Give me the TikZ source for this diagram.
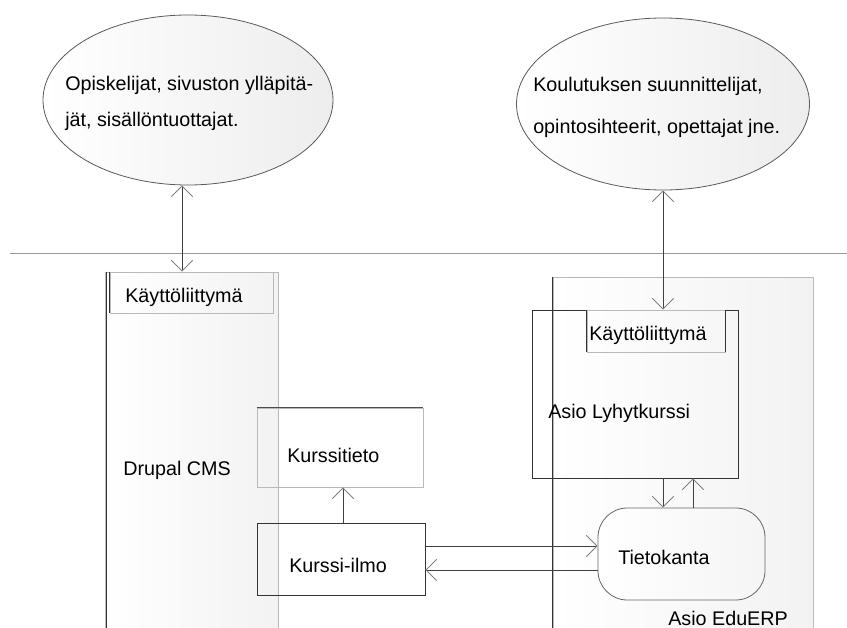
\documentclass[tikz,border=0pt]{standalone}
\usepackage{fontspec}
\setmainfont{Liberation Sans}
\usetikzlibrary{shapes.geometric,arrows.meta}

\newcommand{\pikseli}{0.75pt}

\tikzset{
  pilvi/.style={ellipse, draw=black!65, line width=0.6pt, inner sep=0pt, left color=white, right color=gray!14},
  kehys/.style={rectangle, draw=gray!55, line width=0.6pt, inner sep=0pt, left color=white, right color=gray!10},
  laatikko/.style={rectangle, draw=black!80, line width=0.7pt, inner sep=0pt},
  vaalea/.style={rectangle, draw=gray!55, line width=0.7pt, inner sep=0pt},
  kanta/.style={rectangle, rounded corners=22pt, draw=black!60, line width=0.6pt, inner sep=0pt, left color=white, right color=gray!8},
  reuna/.style={draw=black!80, line width=1.1pt},
  teksti/.style={anchor=west, inner sep=0pt, font=\fontsize{14.8}{18}\selectfont},
  nuoli/.style={draw=black!75, line width=0.6pt}
}

\begin{document}
\begin{tikzpicture}[x=0.75pt,y=-0.75pt,>={Straight Barb[length=8pt,width=16pt,color=gray]}]
    \useasboundingbox (0,0) rectangle (847,628);
    \node[pilvi, minimum width=290*\pikseli, minimum height=170*\pikseli] (opiskelijat) at (188,100) {};
    \node[teksti, align=left, font=\fontsize{14.8}{27}\selectfont] (opiskelijatTxt) at (65,103) {Opiskelijat, sivuston ylläpitä-\\jät, sisällöntuottajat.};
    \node[pilvi, minimum width=293*\pikseli, minimum height=172*\pikseli] (suunnittelijat) at (663,104) {};
    \node[teksti, align=left, font=\fontsize{14.8}{31.5}\selectfont] (suunnittelijatTxt) at (533,107) {Koulutuksen suunnittelijat,\\opintosihteerit, opettajat jne.};
    \draw[gray!80, line width=0.7pt] (10,253) -- (847,253);
    \node[kehys, minimum width=173*\pikseli, minimum height=364*\pikseli] (drupal) at (191.5,454) {};
    \draw[reuna] ([xshift=1.5pt]drupal.north west) -- ([xshift=1.5pt]drupal.south west);
    \node[teksti] (drupalTxt) at (123,470) {Drupal CMS};
    \node[vaalea, minimum width=163*\pikseli, minimum height=41*\pikseli] (kl1) at (191.5,292.5) {};
    \draw[reuna] (kl1.north west) -- (kl1.south west);
    \node[teksti] (kl1Txt) at (125,297) {Käyttöliittymä};
    \node[vaalea, minimum width=166*\pikseli, minimum height=79*\pikseli] (kurssitieto) at (340,447.5) {};
    \draw[black!70, line width=0.7pt] (kurssitieto.north west) -- (kurssitieto.north east);
    \node[teksti] (kurssitietoTxt) at (287,455) {Kurssitieto};
    \node[laatikko, minimum width=168*\pikseli, minimum height=72*\pikseli] (ilmo) at (341,559) {};
    \node[teksti] (ilmoTxt) at (289,565) {Kurssi-ilmo};
    \node[kehys, minimum width=260*\pikseli, minimum height=363*\pikseli] (eduerp) at (683,458.5) {};
    \draw[reuna] (eduerp.north west) -- (eduerp.south west);
    \node[teksti] (eduerpTxt) at (668,618) {Asio EduERP};
    \node[laatikko, minimum width=206*\pikseli, minimum height=168*\pikseli] (lyhytkurssi) at (635,394) {};
    \node[teksti] (lyhytkurssiTxt) at (548,413) {Asio Lyhytkurssi};
    \node[vaalea, minimum width=138*\pikseli, minimum height=42*\pikseli] (kl2) at (656,331) {};
    \draw[reuna] (kl2.north west) -- (kl2.south west) (kl2.north east) -- (kl2.south east);
    \node[teksti] (kl2Txt) at (589,335) {Käyttöliittymä};
    \node[kanta, minimum width=167*\pikseli, minimum height=92*\pikseli] (tietokanta) at (681.5,554) {};
    \node[teksti] (tietokantaTxt) at (618,557) {Tietokanta};
    \draw[nuoli,<->] (182,0 |- opiskelijat.south) -- (182,0 |- kl1.north);
    \draw[nuoli,<->] (suunnittelijat.south) -- (suunnittelijat.south |- kl2.north);
    \draw[nuoli,->] (343,0 |- ilmo.north) -- (343,0 |- kurssitieto.south);
    \draw[nuoli,->] (663,0 |- lyhytkurssi.south) -- (663,0 |- tietokanta.north);
    \draw[nuoli,->] (693,0 |- tietokanta.north) -- (693,0 |- lyhytkurssi.south);
    \draw[nuoli,->] (ilmo.east |- 0,546) -- (tietokanta.west |- 0,546);
    \draw[nuoli,->] (tietokanta.west |- 0,570) -- (ilmo.east |- 0,570);
  \end{tikzpicture}
\end{document}
